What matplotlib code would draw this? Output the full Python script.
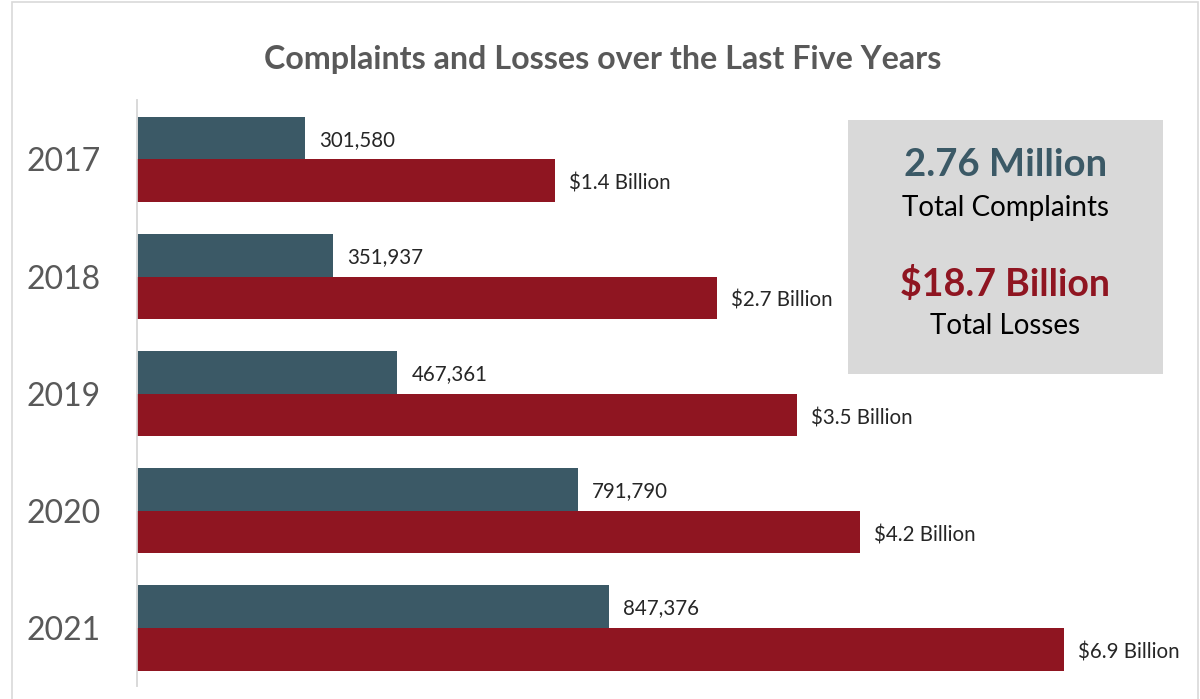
import numpy as np
import matplotlib
matplotlib.use('Agg')
import matplotlib.pyplot as plt
from matplotlib.patches import Rectangle

plt.rcParams['font.family'] = ['Lato', 'DejaVu Sans']

years = ['2017', '2018', '2019', '2020', '2021']
complaints = [301580, 351937, 467361, 791790, 847376]
losses = [1.4, 2.7, 3.5, 4.2, 6.9]  # billions of dollars
total_complaints = '2.76 Million'
total_losses = '$18.7 Billion'

teal = '#3b5966'
red = '#8f1521'
gray = '#595959'

fig = plt.figure(figsize=(12, 6.99), dpi=100)
W, H = 1200, 699

# outer frame
fig.patches.append(Rectangle((12 / W, -0.01), (1198 - 12) / W, 1.01 - 2 / H,
                             transform=fig.transFigure, fill=False,
                             edgecolor='#d9d9d9', linewidth=1.2))

ax = fig.add_axes([137 / W, (H - 686) / H, (1190 - 137) / W, (686 - 100) / H])
ax2 = ax.twiny()
ax2.set_xscale('function', functions=(np.sqrt, np.square))

pos = np.arange(len(years))
h = 0.365
ax.barh(pos - h / 2, complaints, height=h, color=teal, zorder=2)
ax2.barh(pos + h / 2, losses, height=h, color=red, zorder=2)

ax.set_xlim(0, 1.89e6)
ax2.set_xlim(0, 8.9)
ax.set_ylim(4.497, -0.508)

for p, c in zip(pos, complaints):
    ax.annotate(f'{c:,}', (c, p - h / 2), xytext=(14, -2), textcoords='offset pixels',
                va='center', ha='left', fontsize=14.8, color='#262626')
for p, l in zip(pos, losses):
    ax2.annotate(f'${l} Billion', (l, p + h / 2), xytext=(14, -3), textcoords='offset pixels',
                 va='center', ha='left', fontsize=14.8, color='#262626')

ax.set_yticks(pos)
ax.set_yticklabels(years, fontsize=23, color=gray)
ax.tick_params(axis='y', length=0, pad=26)
ax.set_xticks([])
ax2.set_xticks([])
for a in (ax, ax2):
    for s in ('top', 'right', 'bottom'):
        a.spines[s].set_visible(False)
    a.spines['left'].set_color('#d9d9d9')
    a.spines['left'].set_linewidth(1.2)

fig.text(603 / W, 1 - 60 / H, 'Complaints and Losses over the Last Five Years',
         ha='center', va='center', fontsize=23.2, fontweight='bold', color=gray)

# summary box
fig.patches.append(Rectangle((848 / W, 1 - 374 / H), (1163 - 848) / W, (374 - 120) / H,
                             transform=fig.transFigure, facecolor='#d9d9d9',
                             edgecolor='none', zorder=5))
cx = 1005.5 / W
fig.text(cx, 1 - 165 / H, total_complaints, ha='center', va='center', fontsize=27.5,
         fontweight='bold', color=teal, zorder=6)
fig.text(cx, 1 - 208 / H, 'Total Complaints', ha='center', va='center', fontsize=20,
         color='black', zorder=6)
fig.text(cx, 1 - 284 / H, total_losses, ha='center', va='center', fontsize=27,
         fontweight='bold', color=red, zorder=6)
fig.text(cx, 1 - 326 / H, 'Total Losses', ha='center', va='center', fontsize=20,
         color='black', zorder=6)

fig.savefig('out.png', dpi=100)
